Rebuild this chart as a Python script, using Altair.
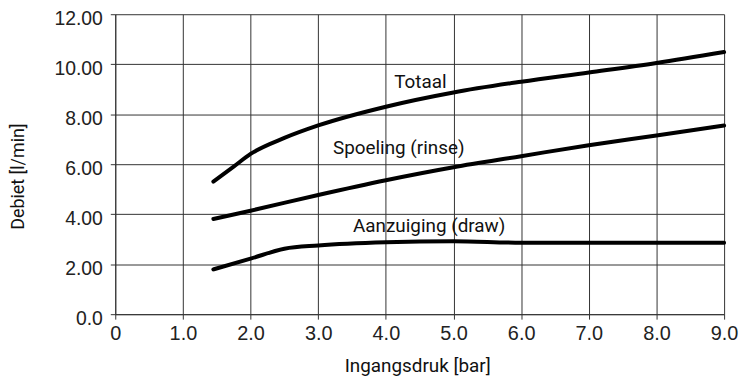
import altair as alt
import pandas as pd

# Data
totaal_x = [1.45, 1.75, 2.0, 2.5, 3.0, 4.0, 5.0, 6.0, 7.0, 8.0, 9.0]
totaal_y = [5.30, 5.90, 6.41, 7.05, 7.55, 8.30, 8.87, 9.30, 9.67, 10.05, 10.49]

spoeling_x = [1.45, 2.0, 3.0, 4.0, 5.0, 6.0, 7.0, 8.0, 9.0]
spoeling_y = [3.81, 4.14, 4.77, 5.36, 5.88, 6.32, 6.76, 7.15, 7.55]

aanzuiging_x = [1.45, 2.0, 2.5, 3.0, 4.0, 5.0, 6.0, 7.0, 8.0, 9.0]
aanzuiging_y = [1.79, 2.22, 2.62, 2.75, 2.88, 2.92, 2.86, 2.86, 2.86, 2.86]

label_text = ["Totaal", "Spoeling (rinse)", "Aanzuiging (draw)"]
label_x = [4.51, 4.19, 4.64]
label_y = [9.06, 6.40, 3.28]

x_ticks = [0, 1, 2, 3, 4, 5, 6, 7, 8, 9]
y_ticks = [0, 2, 4, 6, 8, 10, 12]

rows = []
for name, xs, ys in [("Totaal", totaal_x, totaal_y),
                     ("Spoeling", spoeling_x, spoeling_y),
                     ("Aanzuiging", aanzuiging_x, aanzuiging_y)]:
    for xv, yv in zip(xs, ys):
        rows.append({"serie": name, "x": xv, "y": yv})
df = pd.DataFrame(rows)
labels = pd.DataFrame({"text": label_text, "x": label_x, "y": label_y})

GRID = "#333333"

x_scale = alt.Scale(domain=[0, 9], nice=False, zero=False)
y_scale = alt.Scale(domain=[0, 12], nice=False)

x_axis = alt.Axis(
    values=x_ticks,
    title="Ingangsdruk [bar]",
    labelExpr="datum.value == 0 ? '0' : format(datum.value, '.1f')",
    grid=True, gridColor=GRID, gridOpacity=1, gridWidth=1,
    domainColor=GRID, domainWidth=1,
    tickColor=GRID, tickSize=5, tickWidth=1,
    labelFont="Liberation Sans", labelFontSize=20, labelColor="#222222",
    labelPadding=4, labelFlush=False,
    titleFont="Roboto", titleFontSize=19, titleFontWeight="normal", titleColor="#111111",
    titleBaseline="alphabetic", titleX=304, titleY=58,
)
y_axis = alt.Axis(
    values=y_ticks,
    title="Debiet [l/min]",
    labelExpr="datum.value == 0 ? '0.0' : format(datum.value, '.2f')",
    grid=True, gridColor=GRID, gridOpacity=1, gridWidth=1,
    domainColor=GRID, domainWidth=1,
    tickColor=GRID, tickSize=5, tickWidth=1,
    labelFont="Liberation Sans", labelFontSize=19.5, labelColor="#222222",
    labelPadding=8, labelBaseline="alphabetic", labelOffset=10, labelFlush=False,
    titleFont="Roboto", titleFontSize=18, titleFontWeight="normal", titleColor="#111111",
    titleBaseline="alphabetic", titleAngle=270, titleX=-92, titleY=163,
)

lines = alt.Chart(df).mark_line(
    color="black", strokeWidth=4, interpolate="monotone", strokeCap="round"
).encode(
    x=alt.X("x:Q", scale=x_scale, axis=x_axis),
    y=alt.Y("y:Q", scale=y_scale, axis=y_axis),
    detail="serie:N",
)

texts = alt.Chart(labels).mark_text(
    font="Roboto", fontSize=19, color="#111111", align="center", baseline="alphabetic"
).encode(
    x=alt.X("x:Q", scale=x_scale),
    y=alt.Y("y:Q", scale=y_scale),
    text="text:N",
)

chart = alt.layer(lines, texts).properties(
    width=613, height=302,
    autosize=alt.AutoSizeParams(type="none"),
    padding={"left": 108, "top": 5, "right": 16, "bottom": 64},
).configure_view(stroke=None)

chart.save("out.html", embed_options={"renderer": "svg", "actions": False})
